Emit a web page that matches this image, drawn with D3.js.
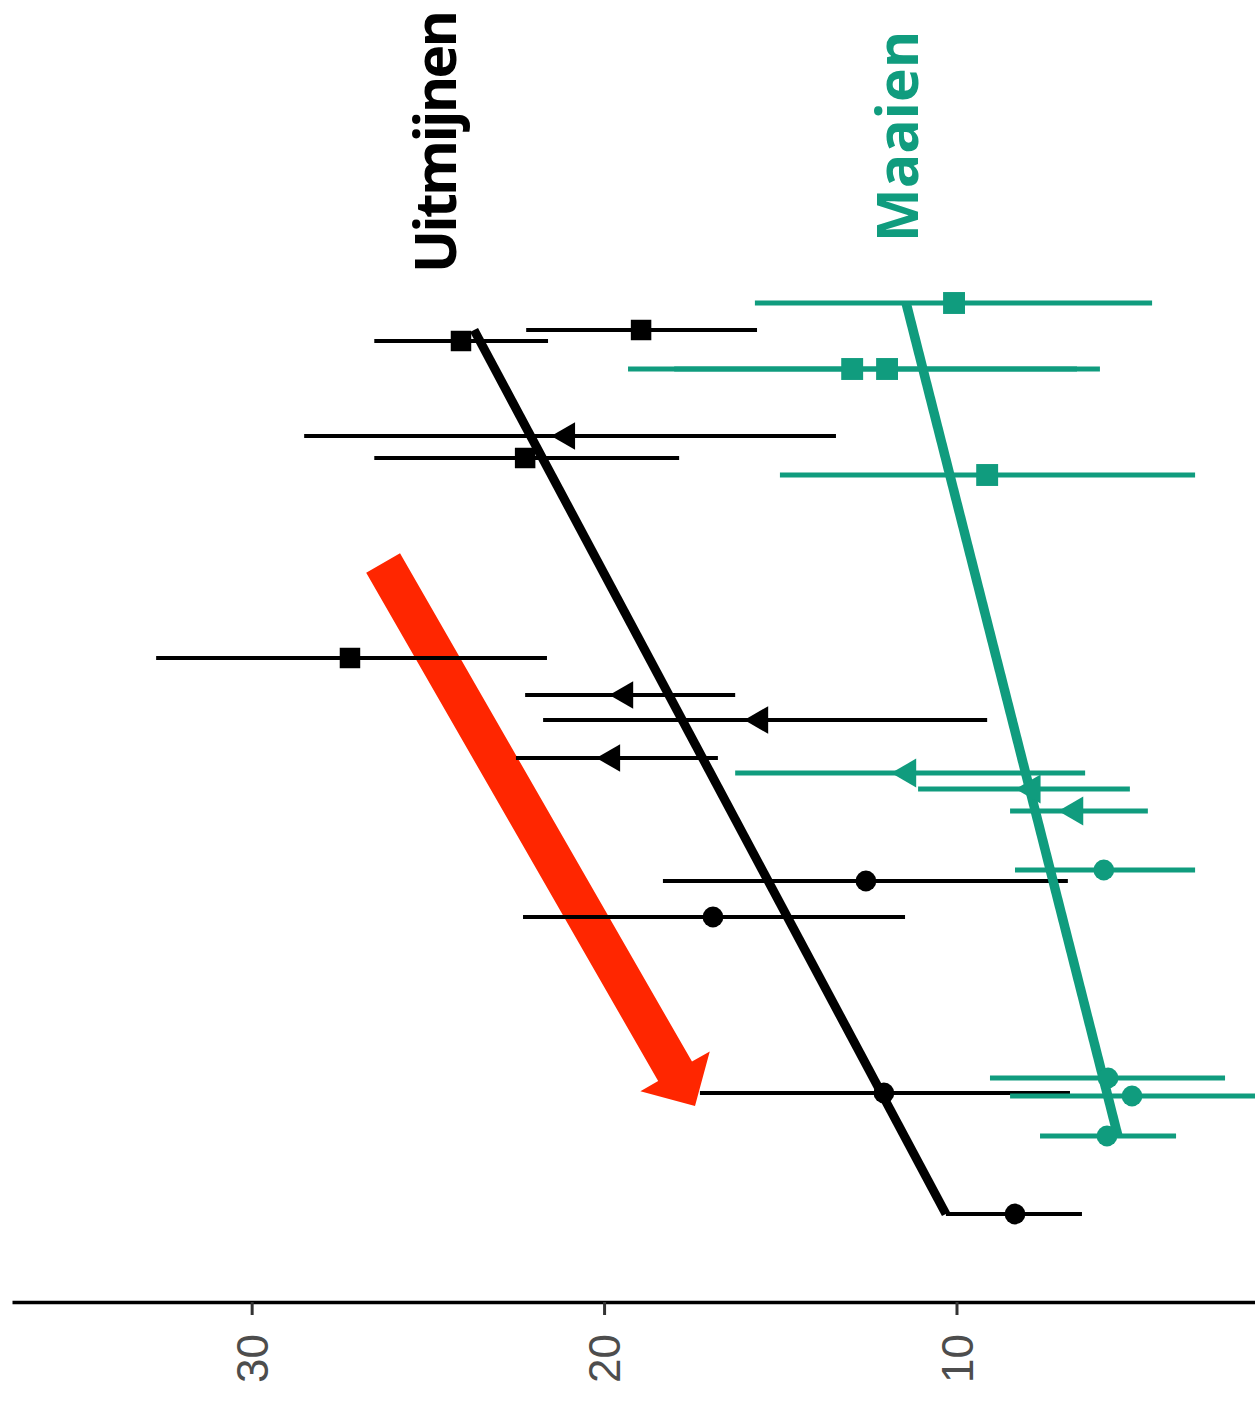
<!DOCTYPE html>
<html>
<head>
<meta charset="utf-8">
<script src="https://cdn.jsdelivr.net/npm/d3@7"></script>
<style>
  html, body { margin: 0; padding: 0; background: #ffffff; }
  svg { display: block; }
</style>
</head>
<body>
<script>
// Uitmijnen (black): position along the time axis, estimate, and interval ends
const uitT     = [97.2, 96.1, 86.6, 84.4, 64.4, 60.7, 58.2, 54.4, 42.1, 38.5, 20.9, 8.8];
const uitEst   = [18.95, 24.06, 21.05, 22.24, 27.21, 19.40, 15.57, 19.77, 12.57, 16.91, 12.06, 8.34];
const uitLow   = [15.66, 21.59, 13.42, 17.87, 21.62, 16.28, 9.13, 16.77, 6.84, 11.46, 6.78, 6.44];
const uitHigh  = [22.21, 26.52, 28.51, 26.52, 32.71, 22.24, 21.73, 22.50, 18.33, 22.30, 17.28, 10.30];
const uitShape = ["square", "square", "triangle", "square", "square", "triangle", "triangle", "triangle",
                  "circle", "circle", "circle", "circle"];

// Maaien (green)
const maaT     = [99.9, 93.3, 93.3, 82.7, 52.9, 51.3, 49.1, 43.2, 22.4, 20.6, 16.6];
const maaEst   = [10.07, 12.96, 11.97, 9.13, 11.38, 7.85, 6.64, 5.82, 5.70, 5.02, 5.73];
const maaLow   = [4.45, 6.58, 5.93, 3.23, 6.35, 5.08, 4.57, 3.23, 2.38, 1.20, 3.77];
const maaHigh  = [15.72, 19.32, 18.01, 15.01, 16.28, 11.09, 8.48, 8.34, 9.05, 8.48, 7.63];
const maaShape = ["square", "square", "square", "square", "triangle", "triangle", "triangle",
                  "circle", "circle", "circle", "circle"];

// Fitted trend lines (start and end)
const uitTrendT = [97.2, 8.8];
const uitTrendV = [23.69, 10.30];
const maaTrendT = [99.9, 16.6];
const maaTrendV = [11.43, 5.42];

// Value axis ticks
const tickValues = [30, 20, 10];

// Direction arrow (value, time) from tail to tip
const arrowTail = [26.27, 73.9];
const arrowTip  = [17.42, 19.6];

const W = 1255, H = 1401;
const BLACK = "#000000", GREEN = "#109c7e", RED = "#ff2600";

const svg = d3.select("body").append("svg")
  .attr("width", W).attr("height", H)
  .attr("viewBox", `0 0 ${W} ${H}`);

// Value runs right-to-left, time runs bottom-to-top
const x = d3.scaleLinear().domain([36.8, 1.53]).range([12, 1255]);
const y = d3.scaleLinear().domain([0, 130]).range([1302, 2]);

// Arrow (drawn beneath the data)
{
  const p0 = [x(arrowTail[0]), y(arrowTail[1])];
  const p1 = [x(arrowTip[0]), y(arrowTip[1])];
  const dx = p1[0] - p0[0], dy = p1[1] - p0[1];
  const len = Math.hypot(dx, dy);
  const u = [dx / len, dy / len];
  const n = [-u[1], u[0]];
  const shaftHalf = 19.5, headHalf = 40, headLen = 40;
  const b = [p1[0] - u[0] * headLen, p1[1] - u[1] * headLen];
  const pts = [
    [p0[0] + n[0] * shaftHalf, p0[1] + n[1] * shaftHalf],
    [b[0] + n[0] * shaftHalf, b[1] + n[1] * shaftHalf],
    [b[0] + n[0] * headHalf, b[1] + n[1] * headHalf],
    p1,
    [b[0] - n[0] * headHalf, b[1] - n[1] * headHalf],
    [b[0] - n[0] * shaftHalf, b[1] - n[1] * shaftHalf],
    [p0[0] - n[0] * shaftHalf, p0[1] - n[1] * shaftHalf]
  ];
  svg.append("path").attr("d", d3.line()(pts) + "Z").attr("fill", RED);
}

function series(tArr, est, lo, hi, shapes, trendT, trendV, color, barW, lineW, sqSize, triSize) {
  const g = svg.append("g");
  const rows = tArr.map((t, i) => ({ t, est: est[i], lo: lo[i], hi: hi[i], shape: shapes[i] }));

  // trend line
  const trend = trendT.map((t, i) => [x(trendV[i]), y(t)]);
  g.append("path").attr("d", d3.line()(trend))
    .attr("fill", "none").attr("stroke", color).attr("stroke-width", lineW);

  // interval bars
  g.selectAll("line.bar").data(rows).join("line")
    .attr("class", "bar")
    .attr("x1", d => x(d.hi)).attr("x2", d => x(d.lo))
    .attr("y1", d => y(d.t)).attr("y2", d => y(d.t))
    .attr("stroke", color).attr("stroke-width", barW);

  // point estimates
  const sym = {
    square: d3.symbol().type(d3.symbolSquare).size(sqSize)(),
    circle: d3.symbol().type(d3.symbolCircle).size(340)(),
    triangle: d3.symbol().type(d3.symbolTriangle).size(triSize)()
  };
  g.selectAll("path.pt").data(rows).join("path")
    .attr("class", "pt")
    .attr("d", d => sym[d.shape])
    .attr("transform", d => `translate(${x(d.est)},${y(d.t)})` + (d.shape === "triangle" ? " rotate(-90)" : ""))
    .attr("fill", color);
}

series(uitT, uitEst, uitLow, uitHigh, uitShape, uitTrendT, uitTrendV, BLACK, 4, 9, 420, 330);
series(maaT, maaEst, maaLow, maaHigh, maaShape, maaTrendT, maaTrendV, GREEN, 5, 9.5, 480, 360);

// Value axis along the bottom
const axis = svg.append("g")
  .attr("transform", `translate(0,${y(0)})`)
  .call(d3.axisBottom(x).tickValues(tickValues).tickSize(13).tickSizeOuter(0).tickFormat(d3.format("d")));
axis.select(".domain").attr("stroke", "#000").attr("stroke-width", 3.5);
axis.selectAll(".tick line").attr("stroke", "#333").attr("stroke-width", 3);
axis.selectAll(".tick text")
  .attr("transform", "rotate(-90)")
  .attr("x", -32).attr("y", 0).attr("dy", "0.36em")
  .style("text-anchor", "end")
  .style("font-family", "'Liberation Sans', Arial, sans-serif")
  .style("font-size", "44px")
  .attr("fill", "#4d4d4d");

// Series labels
svg.append("text")
  .attr("transform", `translate(456,273) rotate(-90)`)
  .attr("textLength", 263).attr("lengthAdjust", "spacing")
  .style("font-family", "'Open Sans', sans-serif").style("font-weight", 700)
  .style("font-size", "57px").attr("fill", BLACK)
  .text("Uitmijnen");

svg.append("text")
  .attr("transform", `translate(918,242) rotate(-90)`)
  .style("font-family", "'Open Sans', sans-serif").style("font-weight", 700)
  .style("font-size", "57px").attr("fill", GREEN)
  .text("Maaien");
</script>
</body>
</html>
